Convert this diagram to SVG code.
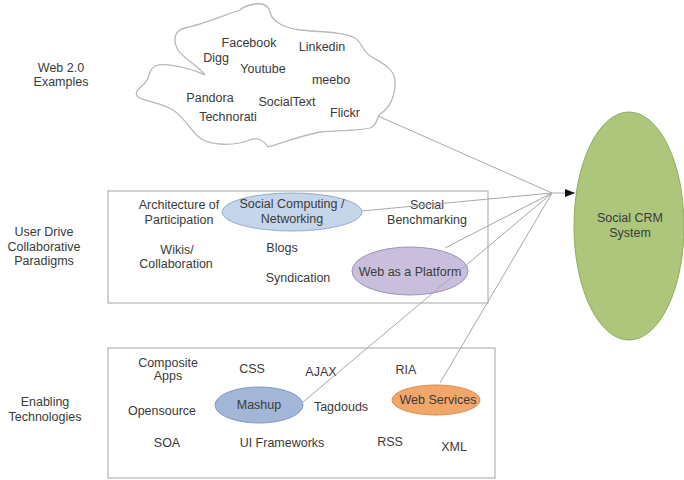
<svg xmlns="http://www.w3.org/2000/svg" width="684" height="480" viewBox="0 0 684 480">
<defs>
<style>
text{font-family:"Liberation Sans",Arial,sans-serif;font-size:12.5px;fill:#3a3a3a;text-anchor:middle}
.box{fill:none;stroke:#b4b4b4;stroke-width:1.2}
.conn{stroke:#a8a8a8;stroke-width:1;fill:none}
.cloud{fill:#fff;stroke:#b8b8b8;stroke-width:1.3}
</style>
<marker id="ah" markerWidth="10" markerHeight="8" refX="10" refY="4" orient="auto" markerUnits="userSpaceOnUse">
<path d="M0,0 L10,4 L0,8 Z" fill="#111"/>
</marker>
</defs>
<rect width="684" height="480" fill="#fff"/>

<g id="labels">
<text x="61" y="72">Web 2.0</text>
<text x="61" y="86">Examples</text>
<text x="44" y="236">User Drive</text>
<text x="44" y="251">Collaborative</text>
<text x="44" y="265">Paradigms</text>
<text x="45" y="406">Enabling</text>
<text x="45" y="421">Technologies</text>
</g>

<g id="web20">
<path class="cloud" d="M240,10 C225,15 200,25 185,28 C175,30 172,40 178,50 C183,58 198,66 205,75 C190,68 165,62 155,66 C148,70 150,78 145,83 C140,88 133,92 138,97 C143,101 160,102 173,110 C185,118 190,130 200,138 C210,146 235,146 250,140 C258,137 263,140 268,147 C285,142 300,136 320,132 C340,130 360,131 370,128 C378,125 376,118 380,114 C390,108 396,95 395,80 C394,68 380,62 372,57 C362,52 362,42 355,38 C345,32 320,32 300,30 C285,28 272,22 270,12 C268,4 262,3 255,4 C248,5 243,7 240,10 Z"/>
<text x="249" y="47">Facebook</text>
<text x="322" y="51">Linkedin</text>
<text x="216" y="62">Digg</text>
<text x="263" y="73">Youtube</text>
<text x="331" y="84">meebo</text>
<text x="210" y="102">Pandora</text>
<text x="287" y="106">SocialText</text>
<text x="228" y="121">Technorati</text>
<text x="345" y="117">Flickr</text>
</g>

<g id="paradigms">
<rect class="box" x="108" y="191" width="380" height="112"/>
<ellipse cx="292" cy="212" rx="70" ry="19" fill="#c6d6ea" stroke="#93abcb"/>
<ellipse cx="410" cy="271" rx="58" ry="24" fill="#c9bfdd" stroke="#9e92bb"/>
<text x="179" y="209">Architecture of</text>
<text x="179" y="224">Participation</text>
<text x="292" y="208">Social Computing /</text>
<text x="292" y="223">Networking</text>
<text x="427" y="209">Social</text>
<text x="427" y="224">Benchmarking</text>
<text x="177" y="254">Wikis/</text>
<text x="176" y="268">Collaboration</text>
<text x="282" y="252">Blogs</text>
<text x="298" y="282">Syndication</text>
<text x="410" y="276">Web as a Platform</text>
</g>

<g id="technologies">
<rect class="box" x="108" y="348" width="387" height="130"/>
<ellipse cx="259" cy="405" rx="44" ry="18" fill="#a3b6d8" stroke="#8299bf"/>
<ellipse cx="436" cy="400" rx="44" ry="15" fill="#f2a66a" stroke="#d48a4c"/>
<text x="168" y="367">Composite</text>
<text x="168" y="380">Apps</text>
<text x="252" y="373">CSS</text>
<text x="321" y="376">AJAX</text>
<text x="406" y="374">RIA</text>
<text x="162" y="415">Opensource</text>
<text x="259" y="409">Mashup</text>
<text x="341" y="411">Tagdouds</text>
<text x="438" y="404">Web Services</text>
<text x="167" y="447">SOA</text>
<text x="282" y="447">UI Frameworks</text>
<text x="390" y="446">RSS</text>
<text x="454" y="451">XML</text>
</g>

<g id="crm">
<ellipse cx="629" cy="226" rx="55" ry="114" fill="#adc67c" stroke="#8fab5e"/>
<text x="630" y="222">Social CRM</text>
<text x="630" y="237">System</text>
</g>

<g id="connectors">
<line class="conn" x1="378" y1="116" x2="552" y2="193"/>
<line class="conn" x1="362" y1="211" x2="552" y2="193"/>
<line class="conn" x1="445" y1="248" x2="552" y2="193"/>
<line class="conn" x1="303" y1="402" x2="552" y2="193"/>
<line class="conn" x1="440" y1="383" x2="552" y2="193"/>
<line class="conn" x1="552" y1="193" x2="575" y2="193" marker-end="url(#ah)"/>
</g>
</svg>
